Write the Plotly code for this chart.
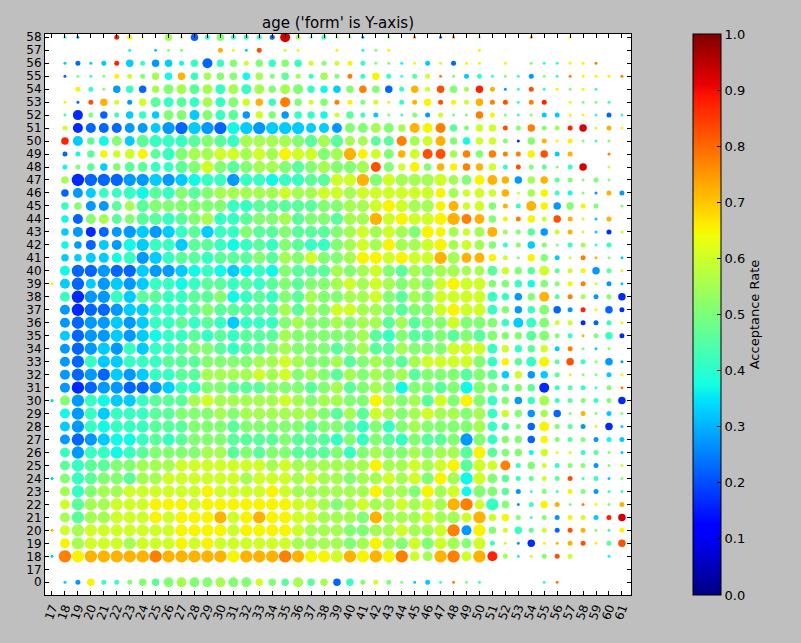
import numpy as np
import plotly.graph_objects as go

# ---------------- data ----------------
X_LABELS = [str(a) for a in range(17, 62)]                      # ages 17..61
Y_LABELS = ["0"] + [str(v) for v in range(17, 59)]               # bottom -> top

# rows listed top (58) -> bottom (0); one char per age 17..61
# each letter is a read-off acceptance rate (see RATE_OF); '.' = no dot
RATE_ROWS = [
    ".hf.. rnm.l keiki iiesl iikkf .k.p. ep.k. ..p.. n....",  # 58
    "..... .h.gk k..on gq.mn ..n.h kn... ...n. ..... .....",  # 57
    ".gegg rgifg hieik mkiki mkmni kkhng menn. n.kii nnp..",  # 56
    ".ekik nmklh oilkk hlkjl ilkpi niijm pkgii kifki pnnnp",  # 55
    "..nik fielk ljlil ilklk ihgkp keiom qklro fiqin kni..",  # 54
    ".neqo mfmji jilik moipk mkpnk mmion qnmop qipr. nkki.",  # 53
    ".idke igigk kgkij fmkfi ihmji gkikf mkkpn kikgg nniei",  # 52
    ".mdee effgf egfeh gfggg ggfkk lklon pjkmm qkpkl rsmon",  # 51
    ".rgjh kgjii ijkji llllk jljll jjplm okhmm kdkon nkik.",  # 50
    ".ehjn mmnji kllmm lmlnm mklon mkomq qlpkp ppnqg o..p.",  # 49
    ".hkjg kjjii jkmkj kllkj klkkl qkmnk onpom iqkjk is.m.",  # 48
    ".ldee effgf ghiif iihii jjmmo kmlll mlkno ofloj kkkk.",  # 47
    ".efgi iihji kjkll lllml lmmlm mmmmm nlmmm omlni hkfof",  # 46
    ".ikff jljkk kkkki ijjjj jkkll mnmll nommk oionf knk.k",  # 45
    ".hekl jkjji jklii jkklj kkjll omnmm nopok npnmq omgo.",  # 44
    ".gfde ffgfg ijgii kjjkj jjklm lmlkn nlmlo lkjfm omgdm",  # 43
    ".hfeg fhgii gjjih ijikj iiklm lnllm nlmlk ikgkk ilii.",  # 42
    ".gggg hifgi jjijj jkjlk mkkln nmnmm oloon mknkg mpokg",  # 41
    ".heef eegff ghihg hihkj jjlkl mkjlk llllj mkjmj mnfjm",  # 40
    "ngegf gfgii hijji jijkj kklml mlklk mnmmk kihkk npmfg",  # 39
    ".idff igjji ijjkh ijikj lkkll mkjlk mmmmi ifkoj plfkd",  # 38
    ".fdee fggii ijkjj jjjlj lkmml lkjkk mnmmi kfike frned",  # 37
    ".feff gfgii jijig iiikl kklkl ljljk kmkkk igikm mdein",  # 36
    ".geff gfghi ijiji jjjlk kkkkl jikjj kjkjk kkjkk iokid",  # 35
    ".fefg figii jkkji jjklk kkjkl jjlkk kmmmi mijmg pkgk.",  # 34
    ".feig giiij jjkkk kllml kkljk lkjlm mmmki njinj qikff",  # 33
    ".fefe gfgii jjlll lmlmk lkjlk lkljk kkjkj gmfgj mkkgn",  # 32
    ".fdef feefg iikkj jjkkk jkljk lkhkk jkhkk jkjdi jiikp",  # 31
    "gkfih ggijj jlmll lllml kllkk nlklj mknki kfili jkikd",  # 30
    ".hfig iiijj kkklk lllll lkjlj mlklm llkli mkfle kokgk",  # 29
    ".gfih iiijj jkkkj kkkkk jkkji kiklk kkkli jkenk jfmdg",  # 28
    ".fefg hhiji jkkkj jjjkj jjiki kjikj jkfki kkenk jkfhg",  # 27
    ".ifii hijkk kkllj kjkkj jjkik lkklk lljnj kkhmn mijkg",  # 26
    ".jijj kklll mmmmm mmlml lllll nllml mnjmm pikmi kkfkm",  # 25
    "gkijk kjllm mmmmm lmmml mllkl lmlmk nlhmk jijmj qiigk",  # 24
    ".likl lmmmm mmnmm mmnml lllll nllkn lmhkk jfiki nkfii",  # 23
    ".mjll mmmnn nmnnn nnnnm mlklm llmlm lopmi kfino kpnko",  # 22
    ".ljll mmmnm nnnom nonnm mlllk olllm llmom nkikf nmgrs",  # 21
    "omlmm mmmmm nnnnm nnnnm lllkk llmll mpfnk mijme qokin",  # 20
    ".nlmm mlmmm nmnmm mmmml lllkl nlkmk mlkmi mfdno oqnjq",  # 19
    "gpnoo ooopo oooon ooopo nnmon onpml opmor lhmkq m..h.",  # 18
    "..... ..... ..... ..... ..... ..... ..... ..... .....",  # 17
    ".gfni ikkjk lkklk kmkjl jleik mkkgg ipki. ...ip .....",  # 0
]

# relative dot-size level per cell (0 = none, 5 = largest)
SIZE_ROWS = [
    "01100 22103 13232 22242 12111 01010 11010 00100 10000",  # 58
    "00000 01011 10021 12011 00101 11000 00010 00000 00000",  # 57
    "01212 23233 23433 23333 22222 11112 12110 10111 11100",  # 56
    "01111 22233 33333 33232 23222 32122 11221 11211 11111",  # 55
    "00221 33334 44444 44344 33333 33232 33232 11211 11100",  # 54
    "01123 22344 44444 33343 23222 21223 22232 21220 11110",  # 53
    "01423 23334 44444 33333 33232 21122 21132 11122 11121",  # 52
    "02444 44445 55555 55555 44444 44344 43233 22322 23121",  # 51
    "03434 44555 55555 55555 55544 44444 43333 21321 21110",  # 50
    "02233 34445 55555 55555 55554 44344 43333 22332 20010",  # 49
    "02233 34444 55555 55555 55555 44343 33333 22221 23010",  # 48
    "03555 55555 55555 55555 55555 55555 54444 33332 21210",  # 47
    "03444 45555 55555 55555 55555 55555 44343 31332 21122",  # 46
    "03344 44555 55555 55555 55555 55555 44343 22433 32201",  # 45
    "03444 44555 55555 55555 55555 55555 55443 22323 21120",  # 44
    "03444 45555 55555 55555 55555 55555 44344 22332 21121",  # 43
    "03344 45555 55555 55555 55555 55555 54443 22321 22120",  # 42
    "03344 45555 55555 55555 55555 55555 55443 21332 12111",  # 41
    "04555 55555 55555 55555 55555 55555 55444 33342 22321",  # 40
    "14545 55555 55555 55555 55555 55555 55553 33332 22121",  # 39
    "04555 55555 55555 55555 55555 55555 55554 33342 22223",  # 38
    "04555 55555 55555 55555 55555 55555 55554 33343 22132",  # 37
    "04555 55555 55555 55555 55555 55555 55554 34442 22221",  # 36
    "04555 55555 55555 55555 55555 55555 55554 33442 21232",  # 35
    "04555 55555 55555 55555 55555 55555 55554 33332 21110",  # 34
    "04555 55555 55555 55555 55555 55555 55554 33442 32131",  # 33
    "04555 55555 55555 55555 55555 55555 55554 33332 11121",  # 32
    "04555 55555 55555 55555 55555 55555 55554 33342 22121",  # 31
    "14555 55555 55555 55555 55555 55555 55554 33342 22223",  # 30
    "04555 55555 55555 55555 55555 55555 55554 33333 12121",  # 29
    "04555 55555 55555 55555 55555 55555 55554 32342 22131",  # 28
    "04555 55555 55555 55555 55555 55555 55554 33332 22222",  # 27
    "04555 55555 55555 55555 55555 55555 55554 33231 12211",  # 26
    "04555 55555 55555 55555 55555 55555 55554 42322 22211",  # 25
    "14555 55555 55555 55555 55555 55555 55554 32222 21211",  # 24
    "04555 55555 55555 55555 55555 55555 55454 32121 22211",  # 23
    "04555 55555 55555 55555 55555 55555 55545 31232 11112",  # 22
    "04555 55555 55555 55555 55555 55555 55453 32122 22223",  # 21
    "14555 55555 55555 55555 55555 55555 55453 23222 22112",  # 20
    "04555 55555 55555 55555 55555 55555 55452 11311 22123",  # 19
    "15555 55555 55555 55555 55555 55544 55454 21122 20010",  # 18
    "00000 00000 00000 00000 00000 00000 00000 00000 00000",  # 17
    "01232 22334 44444 43334 33332 22112 11110 00011 00000",  # 0
]

# acceptance rate for each letter
RATE_OF = {
    "a": 0.025, "b": 0.075, "c": 0.125, "d": 0.165, "e": 0.225,
    "f": 0.275, "g": 0.325, "h": 0.37, "i": 0.415, "j": 0.46,
    "k": 0.51, "l": 0.55, "m": 0.60, "n": 0.65, "o": 0.72,
    "p": 0.775, "q": 0.825, "r": 0.875, "s": 0.925, "t": 0.975,
}
CB_TICKS = [round(0.1 * i, 1) for i in range(11)]

# ---------------- build points ----------------
Y_TOP_DOWN = list(reversed(Y_LABELS))
bad = []
xs, ys, cs, ss = [], [], [], []
for r, (crow, srow) in enumerate(zip(RATE_ROWS, SIZE_ROWS)):
    crow = crow.replace(" ", "")
    srow = srow.replace(" ", "")
    if len(crow) != len(X_LABELS) or len(srow) != len(X_LABELS):
        bad.append((Y_TOP_DOWN[r], len(crow), len(srow)))
        continue
    for c, (ch, sz) in enumerate(zip(crow, srow)):
        if ch == "." or sz == "0":
            continue
        xs.append(int(X_LABELS[c]))
        ys.append(Y_LABELS.index(Y_TOP_DOWN[r]))
        cs.append(RATE_OF[ch])
        ss.append(int(sz))
if bad:
    raise SystemExit("bad rows: %s" % bad)

SIZE_PX = {1: 3.0, 2: 5.0, 3: 7.5, 4: 10.0, 5: 12.4}
marker_sizes = [SIZE_PX[s] for s in ss]

# matplotlib 'jet'
def jet(v):
    r = np.interp(v, [0, 0.35, 0.66, 0.89, 1], [0, 0, 1, 1, 0.5])
    g = np.interp(v, [0, 0.125, 0.375, 0.64, 0.91, 1], [0, 0, 1, 1, 0, 0])
    b = np.interp(v, [0, 0.11, 0.34, 0.65, 1], [0.5, 1, 1, 0, 0])
    return "rgb(%d,%d,%d)" % (round(r * 255), round(g * 255), round(b * 255))

stops = [0, 0.11, 0.125, 0.34, 0.35, 0.375, 0.5, 0.64, 0.65, 0.66, 0.89, 0.91, 1.0]
jet_scale = [[s, jet(s)] for s in stops]

FONT = "DejaVu Sans"

fig = go.Figure(go.Scatter(
    x=xs, y=ys, mode="markers",
    marker=dict(
        size=marker_sizes, color=cs, colorscale=jet_scale, cmin=0, cmax=1,
        opacity=1, line=dict(width=0),
        showscale=True,
        colorbar=dict(
            x=(693 - 45) / 586, xanchor="left", xpad=0,
            y=0.5, yanchor="middle", len=1.0, lenmode="fraction", ypad=0,
            thickness=28, thicknessmode="pixels",
            outlinecolor="black", outlinewidth=1,
            tickvals=CB_TICKS, ticktext=["%.1f" % t for t in CB_TICKS],
            ticks="inside", ticklen=4, tickcolor="black",
            tickfont=dict(family=FONT, size=13, color="black"),
            title=dict(text="Acceptance Rate", side="right",
                       font=dict(family=FONT, size=13, color="black")),
        ),
    ),
    hoverinfo="skip",
))

fig.update_layout(
    width=801, height=643,
    margin=dict(l=45, r=170, t=34, b=48),
    paper_bgcolor="#bfbfbf", plot_bgcolor="white",
    showlegend=False,
    title=dict(text="age ('form' is Y-axis)", x=0.5, xref="paper",
               y=1 - 23 / 643, yref="container", yanchor="middle",
               font=dict(family=FONT, size=15, color="black")),
    xaxis=dict(
        range=[16.46, 61.7], tickmode="array",
        tickvals=[int(v) for v in X_LABELS], ticktext=X_LABELS,
        tickangle=-70, ticks="inside", ticklen=4, tickcolor="black",
        showline=True, linecolor="black", linewidth=1, mirror="ticks",
        showgrid=False, zeroline=False,
        tickfont=dict(family=FONT, size=12, color="black"),
    ),
    yaxis=dict(
        range=[-0.98, 42.25], tickmode="array",
        tickvals=list(range(len(Y_LABELS))), ticktext=Y_LABELS,
        ticks="inside", ticklen=4, tickcolor="black",
        showline=True, linecolor="black", linewidth=1, mirror="ticks",
        showgrid=False, zeroline=False,
        tickfont=dict(family=FONT, size=12, color="black"),
    ),
)

fig.write_html(
    "out.html",
    config={"displayModeBar": False},
    post_script="document.body.style.margin='0';"
                "document.body.style.background='#bfbfbf';",
)
